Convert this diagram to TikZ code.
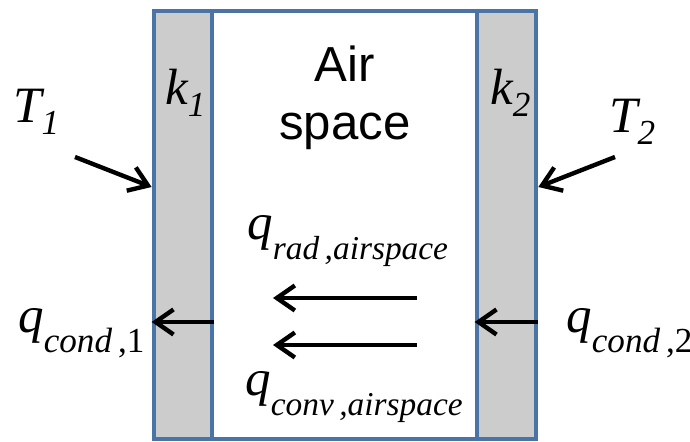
\documentclass[tikz,border=0pt]{standalone}
\usepackage{fontspec}
\setmainfont{Liberation Serif}
\newfontfamily\arialfont{Liberation Sans}
\usetikzlibrary{arrows.meta,calc,positioning}
\definecolor{Frame}{HTML}{4A74A6}
\definecolor{Wall}{HTML}{CCCCCC}
\newcommand{\bigq}[1]{\fontsize{29}{30}\selectfont\itshape #1}
\newcommand{\lowsub}[2][0.4cm]{\raisebox{-#1}{\fontsize{20}{22}\selectfont #2}}
\newcommand{\airsub}[1]{\raisebox{-0.4cm}{\fontsize{19}{21}\selectfont #1}}
\tikzset{frame/.style={draw=Frame,line width=2.7pt,minimum width=7.64cm,minimum height=8.56cm,inner sep=0pt},wall/.style={draw=Frame,fill=Wall,line width=2.7pt,minimum height=8.56cm,inner sep=0pt},lab/.style={inner sep=0pt,anchor=base west},flow/.style={-{Straight Barb[length=3.6mm,width=5mm]},line width=2.5pt,draw=black}}
\begin{document}
\begin{tikzpicture}[x=0.02cm,y=-0.02cm]
      \useasboundingbox (0,0) rectangle (690,442);
      \node[frame](box) at (345,225){};
      \node[wall,minimum width=1.16cm](wall1) at (183,225){};
      \node[wall,minimum width=1.18cm](wall2) at (506.5,225){};
      \node[inner sep=0pt,anchor=base,font=\arialfont\fontsize{28}{33}\selectfont](air) at (345,82){Air};
      \node[inner sep=0pt,anchor=base,font=\arialfont\fontsize{28}{33}\selectfont](space) at (345,140){space};
      \node[lab](k1) at (165,105){\bigq{k}\lowsub[0.24cm]{\itshape 1}};
      \node[lab](k2) at (490,105){\bigq{k}\lowsub[0.24cm]{\itshape 2}};
      \node[lab](t1) at (13,123){\bigq{T}\lowsub[0.24cm]{\itshape 1}};
      \node[lab](t2) at (609,133){\bigq{T}\lowsub[0.24cm]{\itshape 2}};
      \node[lab](qc1) at (18,333){\bigq{q}\lowsub{\itshape cond\/\,\upshape,1}};
      \node[lab](qc2) at (566,333){\bigq{q}\lowsub{\itshape cond\/\,\upshape,2}};
      \node[lab](qrad) at (247,240){\bigq{q}\airsub{\itshape rad\,,airspace}};
      \node[lab](qconv) at (245,396){\bigq{q}\airsub{\itshape conv\,,airspace}};
      % arrow ends
      \coordinate(t1tail) at (75,157);
      \coordinate(t1head) at (wall1.west |- 0,187);
      \coordinate(t2tail) at (615,157);
      \coordinate(t2head) at (wall2.east |- 0,187);
      \coordinate(radtail) at (417,298);
      \coordinate(radhead) at (273,298);
      \coordinate(convtail) at (417,345);
      \coordinate(convhead) at (273,345);
      \draw[flow](t1tail)--(t1head);
      \draw[flow](t2tail)--(t2head);
      \draw[flow](wall1.east |- 0,322)--(wall1.west |- 0,322);
      \draw[flow](wall2.east |- 0,322)--(wall2.west |- 0,322);
      \draw[flow](radtail)--(radhead);
      \draw[flow](convtail)--(convhead);
    \end{tikzpicture}
\end{document}
